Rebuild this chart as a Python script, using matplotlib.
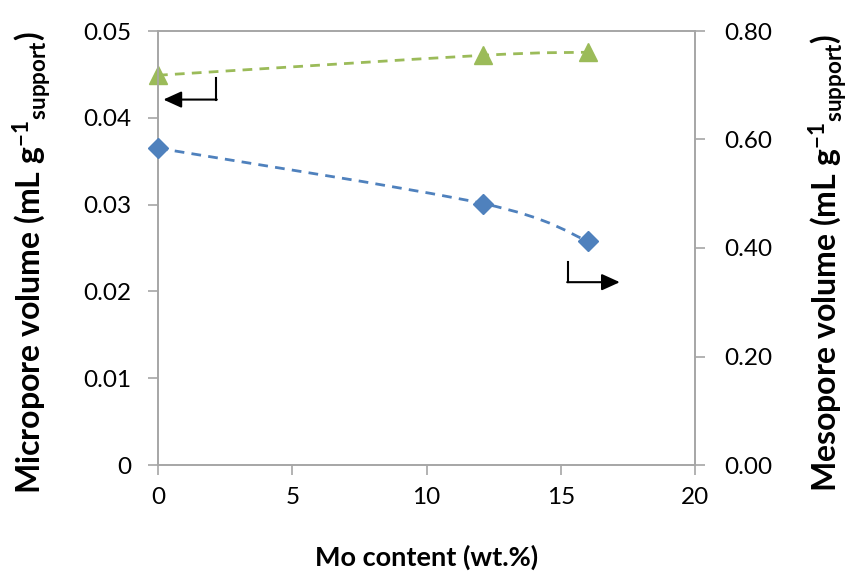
import numpy as np
import matplotlib
matplotlib.use('Agg')
import matplotlib.pyplot as plt
from matplotlib.path import Path
from matplotlib.patches import PathPatch

plt.rcParams['font.family'] = ['Lato', 'DejaVu Sans']
plt.rcParams['mathtext.fontset'] = 'custom'
plt.rcParams['mathtext.rm'] = 'Lato'
plt.rcParams['mathtext.bf'] = 'Lato:bold'

# data
mo_content = [0, 12.1, 16]
micropore = [0.0449, 0.0472, 0.04755]   # left axis, green
mesopore = [0.584, 0.482, 0.413]        # right axis, blue

green = '#9BBB59'
blue = '#4F81BD'
grey = '#A6A6A6'


def smooth_path(ax, xs, ys):
    # Excel-like smoothed line: cubic bezier through the points (done in pixel space)
    pts = ax.transData.transform(np.column_stack([xs, ys]))
    n = len(pts)
    verts = [pts[0]]
    codes = [Path.MOVETO]
    for i in range(n - 1):
        p_prev = pts[max(i - 1, 0)]
        p0 = pts[i]
        p1 = pts[i + 1]
        p_next = pts[min(i + 2, n - 1)]
        c1 = p0 + (p1 - p_prev) / 6.0
        c2 = p1 - (p_next - p0) / 6.0
        verts += [c1, c2, p1]
        codes += [Path.CURVE4] * 3
    verts = ax.transData.inverted().transform(np.array(verts))
    return Path(verts, codes)


fig = plt.figure(figsize=(8.57, 5.77), dpi=100)
ax = fig.add_axes([158 / 857, 112 / 577, 537 / 857, 434 / 577])
ax2 = ax.twinx()

ax.set_xlim(0, 20)
ax.set_ylim(0, 0.05)
ax2.set_ylim(0, 0.80)
ax.set_xticks(range(0, 21, 5))
ax.set_yticks(np.arange(0, 0.051, 0.01))
ax.set_yticklabels(['0', '0.01', '0.02', '0.03', '0.04', '0.05'])
ax2.set_yticks(np.arange(0, 0.81, 0.2))
ax2.set_yticklabels(['%.2f' % v for v in np.arange(0, 0.81, 0.2)])

for a in (ax, ax2):
    for s in a.spines.values():
        s.set_color(grey)
        s.set_linewidth(1.2)
ax.tick_params(axis='y', direction='out', length=7, width=1.2, color=grey, labelsize=17.5, pad=12)
ax.tick_params(axis='x', direction='out', length=7, width=1.2, color=grey, labelsize=17.5, pad=9)
ax2.tick_params(axis='y', direction='out', length=7, width=1.2, color=grey, labelsize=17.5, pad=14)

# micropore (left)
p = PathPatch(smooth_path(ax, mo_content, micropore), fill=False, edgecolor=green,
              lw=2, linestyle=(0, (3.5, 2.6)), zorder=3)
ax.add_patch(p)
ax.plot(mo_content, micropore, ls='none', marker='^', ms=12.5, color=green,
        clip_on=False, zorder=4)

# mesopore (right)
p2 = PathPatch(smooth_path(ax2, mo_content, mesopore), fill=False, edgecolor=blue,
               lw=2, linestyle=(0, (3.5, 2.6)), zorder=3)
ax2.add_patch(p2)
ax2.plot(mo_content, mesopore, ls='none', marker='D', ms=10, color=blue,
         clip_on=False, zorder=4)

# axis indicator arrows
head = '-|>,head_length=1.1,head_width=0.5'
ax.plot([2.16, 2.16], [0.0446, 0.0421], color='black', lw=1.5)
ax.annotate('', xy=(0.2, 0.0421), xytext=(2.16 + 0.03, 0.0421),
            arrowprops=dict(arrowstyle=head, color='black', lw=1.5, shrinkA=0, shrinkB=0))
ax2.plot([15.27, 15.27], [0.374, 0.337], color='black', lw=1.5)
ax2.annotate('', xy=(17.2, 0.337), xytext=(15.27 - 0.03, 0.337),
             arrowprops=dict(arrowstyle=head, color='black', lw=1.5, shrinkA=0, shrinkB=0))

ax.set_xlabel('Mo content (wt.%)', fontsize=19.5, fontweight='bold', labelpad=26)
ax.set_ylabel(r'Micropore volume (mL g$\mathbf{^{-1}}$$\mathbf{_{support}}$)',
              fontsize=23, fontweight='bold')
ax2.set_ylabel(r'Mesopore volume (mL g$\mathbf{^{-1}}$$\mathbf{_{support}}$)',
               fontsize=23, fontweight='bold')
ax.yaxis.set_label_coords(-0.195, 0.465)
ax2.yaxis.set_label_coords(1.208, 0.465)

fig.savefig('out.png', dpi=100)
